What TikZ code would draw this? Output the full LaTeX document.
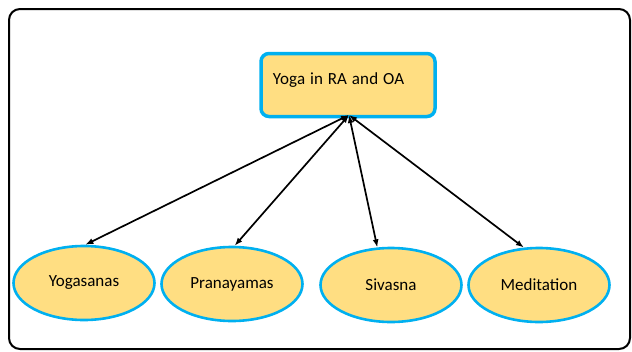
\documentclass[tikz,border=0pt]{standalone}
\usepackage{fontspec}
\setmainfont{Carlito}
\newfontfamily\widefont[WordSpace=1.2,LetterSpace=1]{Carlito}
\usetikzlibrary{arrows.meta,shapes.geometric}
\definecolor{boxfill}{RGB}{255,222,130}
\definecolor{boxline}{RGB}{0,176,240}
\tikzset{
  leaf/.style={ellipse,draw=boxline,line width=2.6pt,fill=boxfill,minimum width=141pt,minimum height=74pt,inner sep=0pt,font=\fontsize{17}{19}\selectfont},
  topbox/.style={rectangle,rounded corners=8pt,draw=boxline,line width=3.5pt,fill=boxfill,minimum width=174pt,minimum height=63pt},
  link/.style={{Latex[length=8pt,width=6pt]}-{Latex[length=8pt,width=6pt]},line width=1.7pt,black}
}
\begin{document}
\begin{tikzpicture}[x=1pt,y=-1pt]
\useasboundingbox (0,0) rectangle (632,351);
\draw[line width=2pt,rounded corners=11pt] (9,9) rectangle (630,349);
\node[topbox] (top) at (348,85) {};
\node[font=\widefont\fontsize{17}{19}\selectfont,anchor=center] (toptext) at (338.5,80) {Yoga in RA and OA};
\coordinate (hub) at (349,115);
\node[leaf] (yog) at (84,283) {Yogasanas\hspace{12pt}};
\node[leaf] (pra) at (232,284) {Pranayamas};
\node[leaf] (siv) at (391,285) {Sivasna\hspace{4pt}};
\node[leaf] (med) at (539,285) {Meditation\hspace{6pt}};
\draw[link] (hub) -- (yog.88);
\draw[link] (hub) -- (pra.86);
\draw[link] (hub) -- (siv.110);
\draw[link] (hub) -- (med.112);
\end{tikzpicture}
\end{document}
